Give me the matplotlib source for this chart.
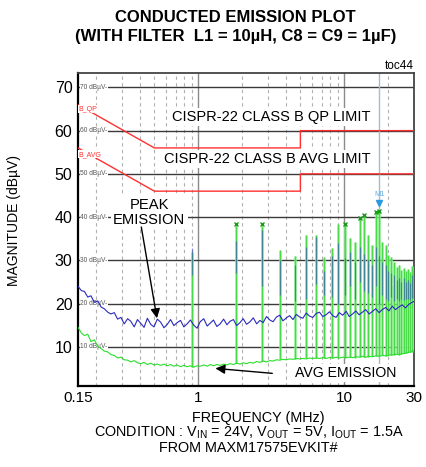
import matplotlib
matplotlib.use("Agg")
import matplotlib.pyplot as plt
from matplotlib.ticker import FixedLocator, NullLocator

plt.rcParams['font.family'] = ['Liberation Sans', 'DejaVu Sans']

# ---------------- data ----------------
sweep_freq = [0.150, 0.158, 0.166, 0.175, 0.184, 0.194, 0.205, 0.216, 0.227, 0.240, 0.252, 0.266, 0.280,
              0.295, 0.311, 0.328, 0.345, 0.364, 0.383, 0.404, 0.425, 0.448, 0.472, 0.497, 0.524, 0.552,
              0.582, 0.613, 0.646, 0.680, 0.717, 0.755, 0.796, 0.838, 0.883, 0.931, 0.981, 1.03, 1.09,
              1.15, 1.21, 1.27, 1.34, 1.41, 1.49, 1.57, 1.65, 1.74, 1.83, 1.93, 2.03, 2.14, 2.26, 2.38,
              2.51, 2.64, 2.78, 2.93, 3.09, 3.25, 3.43, 3.61, 3.80, 4.01, 4.22, 4.45, 4.69, 4.94, 5.20,
              5.48, 5.78, 6.09, 6.41, 6.76, 7.12, 7.50, 7.90, 8.33, 8.77, 9.24, 9.74, 10.3, 10.8, 11.4,
              12.0, 12.6, 13.3, 14.0, 14.8, 15.6, 16.4, 17.3, 18.2, 19.2, 20.2, 21.3, 22.4, 23.6, 24.9,
              26.2, 27.6, 29.1, 30.0]
peak_floor = [24.0, 23.0, 22.8, 21.5, 21.8, 20.3, 20.6, 19.2, 18.8, 18.0, 17.6, 17.9, 16.4,
              16.8, 15.3, 16.5, 15.9, 14.6, 16.3, 15.4, 14.5, 16.6, 15.2, 14.6, 16.4, 15.7,
              14.4, 15.2, 16.3, 14.9, 15.6, 16.1, 14.6, 15.3, 16.2, 15.0, 14.3, 15.8, 16.5,
              14.8, 15.5, 16.2, 14.7, 15.3, 16.4, 15.1, 15.9, 16.3, 14.9, 15.6, 16.5, 15.2, 15.8, 16.7,
              15.3, 16.1, 15.6, 17.0, 16.2, 15.8, 16.9, 17.3, 16.0, 16.7, 17.2, 16.3, 17.5, 16.9, 16.6,
              17.8, 17.1, 16.8, 17.7, 18.0, 17.0, 17.4, 18.1, 17.2, 16.8, 17.9, 17.3, 18.2, 17.0, 17.6,
              18.3, 17.4, 18.0, 18.6, 17.6, 18.2, 18.8, 17.9, 18.6, 19.1, 18.3, 19.4, 18.6, 19.2, 19.7,
              19.0, 19.8, 20.3, 20.5]
avg_floor = [14.5, 13.2, 12.6, 12.9, 11.2, 11.6, 10.1, 9.6, 9.0, 8.8, 8.2, 8.0, 7.4,
             7.6, 7.0, 6.9, 6.5, 6.8, 6.3, 6.1, 6.4, 5.9, 6.2, 5.8, 6.0, 5.7,
             6.0, 5.6, 5.9, 5.5, 5.8, 5.4, 5.7, 5.4, 5.6, 5.3, 5.6, 5.5, 5.8,
             5.5, 5.9, 5.6, 5.9, 5.7, 6.0, 5.8, 6.1, 5.9, 6.2, 6.0, 6.3, 6.1, 6.4, 6.2,
             6.6, 6.4, 6.7, 6.5, 6.8, 6.7, 7.0, 6.9, 7.1, 7.0, 7.2, 7.1, 7.3, 7.2, 7.3,
             7.2, 7.4, 7.3, 7.4, 7.3, 7.5, 7.3, 7.5, 7.4, 7.6, 7.4, 7.6, 7.5, 7.6, 7.5,
             7.7, 7.6, 7.8, 7.6, 7.8, 7.7, 7.9, 7.8, 8.0, 7.9, 8.1, 8.1, 8.3, 8.2, 8.4,
             8.5, 8.7, 8.9, 9.2]

harm_freq = [0.912, 1.82, 2.73, 3.65, 4.56, 5.47, 6.38, 7.30, 8.21, 9.12, 10.03, 10.94, 11.86, 12.77,
             13.68, 14.59, 15.50, 16.42, 17.33, 18.24, 19.15, 20.06, 20.98, 21.89, 22.80, 23.71,
             24.62, 25.54, 26.45, 27.36, 28.27, 29.18]
harm_avg = [32.0, 38.0, 38.0, 32.3, 30.9, 35.8, 35.9, 30.8, 32.9, 38.5, 38.1, 35.2, 34.2, 39.6,
            40.4, 35.8, 33.5, 41.0, 41.4, 34.3, 33.5, 31.2, 30.8, 29.5, 28.5, 29.0,
            27.8, 28.3, 27.5, 28.0, 27.2, 28.6]
harm_peak_lo = [26.5, 27.0, 24.0, 22.0, 20.5, 21.0, 24.5, 22.0, 21.5, 20.0, 22.0, 24.0, 21.0, 25.0,
                23.0, 22.5, 21.5, 24.0, 20.0, 22.0, 21.0, 20.5, 21.5, 20.5, 21.0, 20.5,
                21.0, 20.8, 21.0, 21.0, 20.9, 21.2]
harm_peak_hi = [32.8, 34.5, 37.0, 30.0, 29.0, 33.0, 35.5, 27.5, 31.0, 34.0, 30.5, 32.0, 29.5, 33.0,
                31.5, 30.0, 29.0, 33.0, 31.0, 29.5, 29.0, 27.5, 27.0, 26.5, 25.5, 26.0,
                25.0, 26.0, 25.0, 25.5, 24.8, 26.5]
harm_base_avg = [5.3, 6.2, 6.7, 7.1, 7.2, 7.3, 7.4, 7.3, 7.5, 7.4, 7.5, 7.6, 7.5, 7.6,
                 7.7, 7.7, 7.8, 7.9, 7.8, 8.0, 7.9, 8.1, 8.1, 8.2, 8.3, 8.2,
                 8.4, 8.5, 8.6, 8.7, 8.8, 8.9]

minor_freq = [19.6, 21.4, 23.2, 25.1, 26.9, 28.7, 29.6]
minor_avg = [22.0, 24.0, 21.5, 21.0, 20.0, 19.0, 21.0]
minor_base = [8.0, 8.1, 8.2, 8.4, 8.6, 8.8, 9.0]

mark_freq = [1.82, 2.73, 10.03, 12.77, 13.68, 16.42, 17.33]
mark_val = [38.4, 38.4, 38.3, 39.8, 40.6, 41.1, 41.5]

qp_freq = [0.15, 0.5, 5.0, 5.0, 30.0]
qp_limit = [66, 56, 56, 60, 60]
avg_lim_freq = [0.15, 0.5, 5.0, 5.0, 30.0]
avg_limit = [56, 46, 46, 50, 50]

m1_freq = 17.33
m1_val = 43.2

y_ticks = [10, 20, 30, 40, 50, 60, 70]
x_ticks = [0.15, 1, 10, 30]
x_tick_labels = ['0.15', '1', '10', '30']
minor_grid = [0.2, 0.3, 0.4, 0.5, 0.6, 0.7, 0.8, 0.9, 2, 3, 4, 5, 6, 7, 8, 9, 20]
major_grid = [1, 10]

# ---------------- figure ----------------
fig = plt.figure(figsize=(4.26, 4.67), dpi=100)
ax = fig.add_axes([78/426, 1-385.7/467, (414-78)/426, (385.7-72.7)/467])
ax.set_xscale('log')
ax.set_xlim(0.15, 30)
ax.set_ylim(1.0, 73.4)

# grid
for f in minor_grid:
    ax.axvline(f, color='#b0b0b0', lw=0.8, ls=(0, (3, 3)), zorder=1)
for f in major_grid:
    ax.axvline(f, color='#8a8a8a', lw=1.0, zorder=1)
for y in y_ticks:
    ax.axhline(y, color='#3a3a3a', lw=1.0, zorder=1)
    ax.text(0.156, y, f'{y} dBµV-', fontsize=4.8, color='#555555', va='center', ha='left',
            bbox=dict(facecolor='white', edgecolor='none', pad=0.3), zorder=2)

# M1 marker line
ax.axvline(m1_freq, color='#a7bcc4', lw=1.0, zorder=1.5)

# limits
ax.plot(qp_freq, qp_limit, color='#ff3030', lw=1.0, zorder=3)
ax.plot(avg_lim_freq, avg_limit, color='#ff3030', lw=1.0, zorder=3)
ax.text(0.151, 65.0, 'B_QP', fontsize=5.0, color='#ff3030', va='center', ha='left',
        bbox=dict(facecolor='white', edgecolor='none', pad=0.3), zorder=4)
ax.text(0.151, 54.5, 'B_AVG', fontsize=5.0, color='#ff3030', va='center', ha='left',
        bbox=dict(facecolor='white', edgecolor='none', pad=0.3), zorder=4)

# spikes
ax.vlines(harm_freq, harm_base_avg, harm_avg, color='#80ef80', lw=1.8, zorder=4)
ax.vlines(harm_freq, harm_base_avg, harm_avg, color='#34d034', lw=0.5, zorder=4.2)
ax.vlines(minor_freq, minor_base, minor_avg, color='#90ef90', lw=1.3, zorder=4)
ax.vlines(harm_freq, harm_peak_lo, harm_peak_hi, color='#3a50c0', lw=0.9, alpha=0.6, zorder=5)

# traces
ax.plot(sweep_freq, peak_floor, color='#2a2ac0', lw=0.8, zorder=5)
ax.plot(sweep_freq, avg_floor, color='#2adf2a', lw=0.8, zorder=5)

ax.plot(mark_freq, mark_val, ls='none', marker='x', ms=3, mew=1.0, color='#1a9a1a', zorder=6)
ax.plot([m1_freq], [m1_val], ls='none', marker='v', ms=4.5, color='#2a9ae0', zorder=6)
ax.text(m1_freq, 45.3, 'M1', fontsize=5.5, color='#66b0e0', ha='center', va='center', zorder=6)

# annotations
box = dict(facecolor='white', edgecolor='none', pad=1.5)
ax.text(3.15, 63.1, 'CISPR-22 CLASS B QP LIMIT', fontsize=10.5, ha='center', va='center', bbox=box, zorder=3.5)
ax.text(2.95, 53.4, 'CISPR-22 CLASS B AVG LIMIT', fontsize=10.5, ha='center', va='center', bbox=box, zorder=3.5)
ax.text(0.462, 41.1, 'PEAK\nEMISSION', fontsize=10.6, ha='center', va='center', linespacing=1.1,
        bbox=box, zorder=3.5)
ax.text(10.2, 3.93, 'AVG EMISSION', fontsize=10.2, ha='center', va='center', bbox=box, zorder=3.5)

arrow = dict(arrowstyle='-|>', color='black', lw=1.0, mutation_scale=14, shrinkA=0, shrinkB=0)
ax.annotate('', xy=(0.521, 16.6), xytext=(0.407, 37.7), arrowprops=arrow, zorder=7)
ax.annotate('', xy=(1.31, 5.0), xytext=(3.21, 3.86), arrowprops=arrow, zorder=7)

# axes styling
ax.xaxis.set_major_locator(FixedLocator(x_ticks))
ax.xaxis.set_minor_locator(NullLocator())
ax.set_xticklabels(x_tick_labels)
ax.set_yticks(y_ticks)
ax.tick_params(axis='y', length=0, labelsize=11.5, pad=4)
ax.tick_params(axis='x', length=0, labelsize=11, pad=4)
for side in ['left', 'bottom']:
    ax.spines[side].set_linewidth(1.6)
    ax.spines[side].set_color('black')
for side in ['right', 'top']:
    ax.spines[side].set_linewidth(1.3)
    ax.spines[side].set_color('#444444')

fig.text(14/426, 1-220/467, 'MAGNITUDE (dBµV)', rotation=90, fontsize=10, ha='center', va='center')
fig.text(258/426, 1-418/467, 'FREQUENCY (MHz)', fontsize=10.4, ha='center', va='center')
fig.text(249/426, 1-433/467,
         r'CONDITION : V$_{\mathregular{IN}}$ = 24V, V$_{\mathregular{OUT}}$ = 5V, I$_{\mathregular{OUT}}$ = 1.5A',
         fontsize=10.4, ha='center', va='center')
fig.text(248/426, 1-448/467, 'FROM MAXM17575EVKIT#', fontsize=10.4, ha='center', va='center')
fig.text(235/426, 1-17/467, 'CONDUCTED EMISSION PLOT', fontsize=12, fontweight='bold', ha='center', va='center')
fig.text(236/426, 1-37/467, '(WITH FILTER  L1 = 10µH, C8 = C9 = 1µF)', fontsize=12, fontweight='bold',
         ha='center', va='center')
fig.text(414/426, 1-66/467, 'toc44', fontsize=8.5, ha='right', va='center')

fig.savefig('out.png', dpi=100)
